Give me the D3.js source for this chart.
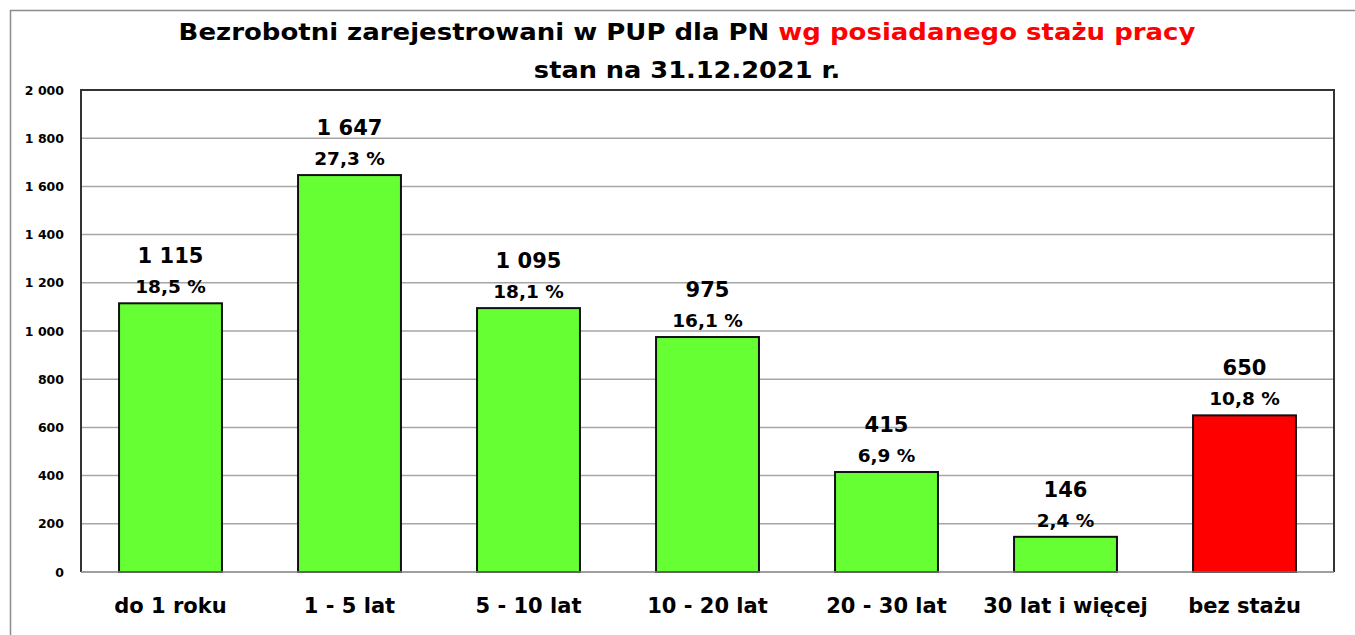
<!DOCTYPE html>
<html><head><meta charset="utf-8">
<script src="https://cdn.jsdelivr.net/npm/d3@7/dist/d3.min.js"></script>
<style>body{margin:0;background:#fff;}svg{display:block;}</style>
</head><body>
<svg id="c" width="1355" height="635"></svg>
<script>
const categories = ["do 1 roku","1 - 5 lat","5 - 10 lat","10 - 20 lat","20 - 30 lat","30 lat i więcej","bez stażu"];
const values = [1115,1647,1095,975,415,146,650];
const percents = ["18,5 %","27,3 %","18,1 %","16,1 %","6,9 %","2,4 %","10,8 %"];
const barColors = ["#66ff33","#66ff33","#66ff33","#66ff33","#66ff33","#66ff33","#ff0000"];
const yTicks = [0,200,400,600,800,1000,1200,1400,1600,1800,2000];
const titleBlack = "Bezrobotni zarejestrowani w PUP dla PN ";
const titleRed = "wg posiadanego stażu pracy";
const subtitle = "stan na 31.12.2021 r.";

const svg = d3.select("#c");
const font = "'DejaVu Sans', sans-serif";
const m = {left:81, top:90, right:1334, bottom:572};
const x = d3.scaleBand().domain(categories).range([m.left,m.right]).paddingInner(0.425).paddingOuter(0.2125);
const y = d3.scaleLinear().domain([0,2000]).range([m.bottom,m.top]);
const fmt = v => d3.format(",")(v).replace(/,/g," ");

// outer frame
svg.append("path").attr("d",`M10.5,635 V10.5 H1355`).attr("fill","none").attr("stroke","#8c8c8c").attr("stroke-width",1.5);

// title
const t = svg.append("text").attr("transform","translate(687,40) scale(1.155,1)").attr("text-anchor","middle")
  .attr("font-family",font).attr("font-weight",700).attr("font-size",22.5);
t.append("tspan").attr("fill","#000").text(titleBlack);
t.append("tspan").attr("fill","#ff0000").text(titleRed);
svg.append("text").attr("transform","translate(687,78) scale(1.14,1)").attr("text-anchor","middle")
  .attr("font-family",font).attr("font-weight",700).attr("font-size",22.5).text(subtitle);

// gridlines
svg.append("g").selectAll("line").data(yTicks.filter(d=>d>0&&d<2000)).join("line")
  .attr("x1",m.left).attr("x2",m.right).attr("y1",d=>y(d)).attr("y2",d=>y(d))
  .attr("stroke","#a6a6a6").attr("stroke-width",1.5);

// y axis
const ya = svg.append("g").attr("transform",`translate(${m.left},0)`)
  .call(d3.axisLeft(y).tickValues(yTicks).tickFormat(fmt).tickSize(0).tickPadding(17));
ya.select(".domain").remove();
ya.selectAll("text").attr("font-family",font).attr("font-weight",700).attr("font-size",12.5).attr("fill","#000");

// bars
svg.append("g").selectAll("rect").data(values).join("rect")
  .attr("x",(d,i)=>x(categories[i])).attr("width",x.bandwidth())
  .attr("y",d=>y(d)).attr("height",d=>y(0)-y(d))
  .attr("fill",(d,i)=>barColors[i]).attr("stroke","#111").attr("stroke-width",2);

// plot border
svg.append("path").attr("d",`M${m.left},${m.bottom} V${m.top} H${m.right} V${m.bottom}`)
  .attr("fill","none").attr("stroke","#333").attr("stroke-width",2);
svg.append("line").attr("x1",m.left).attr("x2",m.right).attr("y1",m.bottom).attr("y2",m.bottom)
  .attr("stroke","#7f7f7f").attr("stroke-width",1.5);

// labels
const lab = svg.append("g").attr("font-family",font).attr("font-weight",700).attr("text-anchor","middle").attr("fill","#000");
lab.selectAll(".v").data(values).join("text").attr("class","v")
  .attr("x",(d,i)=>x(categories[i])+x.bandwidth()/2).attr("y",d=>y(d)-40)
  .attr("font-size",21).text(fmt);
lab.selectAll(".p").data(values).join("text").attr("class","p")
  .attr("x",(d,i)=>x(categories[i])+x.bandwidth()/2).attr("y",d=>y(d)-10)
  .attr("font-size",18.5).text((d,i)=>percents[i]);

// x axis labels
const xa = svg.append("g").attr("transform",`translate(0,${m.bottom})`)
  .call(d3.axisBottom(x).tickSize(0).tickPadding(26));
xa.select(".domain").remove();
xa.selectAll("text").attr("font-family",font).attr("font-weight",700).attr("font-size",21).attr("fill","#000");
</script>
</body></html>
